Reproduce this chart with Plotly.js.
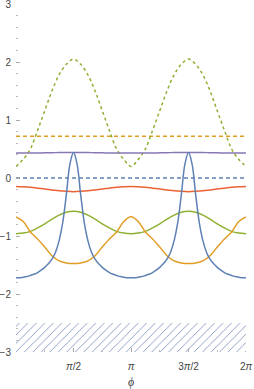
<!DOCTYPE html>
<html>
<head>
<meta charset="utf-8">
<script src="https://cdn.plot.ly/plotly-3.0.1.min.js"></script>
<style>html,body{margin:0;padding:0;background:#fff;}#chart{width:254px;height:389px;}</style>
</head>
<body>
<div id="chart"></div>
<script>
// ---- data ----
const PI = Math.PI;
// grid index for k*pi/16 (k = 0..32)
const steps16 = [0,1,2,3,4,5,6,7,8,9,10,11,12,13,14,15,16,17,18,19,20,21,22,23,24,25,26,27,28,29,30,31,32];
// grid index for j*pi/32 (j = 0..64)
const steps32 = [];
for (let j = 0; j <= 64; j++) steps32.push(j);

const greenDotted = [0.20,0.32,0.50,0.82,1.16,1.50,1.78,1.96,2.05,1.96,1.78,1.50,1.16,0.82,0.50,0.32,0.20,
                     0.32,0.50,0.82,1.16,1.50,1.78,1.96,2.05,1.96,1.78,1.50,1.16,0.82,0.50,0.32,0.20];
const purpleSolid = [0.43,0.43,0.43,0.43,0.435,0.435,0.44,0.44,0.44,0.44,0.44,0.435,0.435,0.43,0.43,0.43,0.43,
                     0.43,0.43,0.43,0.435,0.435,0.44,0.44,0.44,0.44,0.44,0.435,0.435,0.43,0.43,0.43,0.43];
const redSolid = [-0.145,-0.15,-0.16,-0.175,-0.19,-0.205,-0.22,-0.23,-0.235,-0.23,-0.22,-0.205,-0.19,-0.175,-0.16,-0.15,-0.145,
                  -0.15,-0.16,-0.175,-0.19,-0.205,-0.22,-0.23,-0.235,-0.23,-0.22,-0.205,-0.19,-0.175,-0.16,-0.15,-0.145];
const greenSolid = [-0.96,-0.95,-0.92,-0.86,-0.79,-0.71,-0.64,-0.59,-0.575,-0.59,-0.64,-0.71,-0.79,-0.86,-0.92,-0.95,-0.96,
                    -0.95,-0.92,-0.86,-0.79,-0.71,-0.64,-0.59,-0.575,-0.59,-0.64,-0.71,-0.79,-0.86,-0.92,-0.95,-0.96];
const orangeSolid = [-0.67,-0.75,-0.93,-1.05,-1.19,-1.34,-1.43,-1.465,-1.475,-1.465,-1.43,-1.34,-1.19,-1.05,-0.93,-0.75,-0.67,
                     -0.75,-0.93,-1.05,-1.19,-1.34,-1.43,-1.465,-1.475,-1.465,-1.43,-1.34,-1.19,-1.05,-0.93,-0.75,-0.67];
const blueSolid = [-1.72,-1.72,-1.71,-1.70,-1.68,-1.66,-1.63,-1.59,-1.54,-1.48,-1.40,-1.28,-1.08,-0.77,-0.29,0.24,0.44,
                   0.24,-0.29,-0.77,-1.08,-1.28,-1.40,-1.48,-1.54,-1.59,-1.63,-1.66,-1.68,-1.70,-1.71,-1.72,-1.72,
                   -1.72,-1.71,-1.70,-1.68,-1.66,-1.63,-1.59,-1.54,-1.48,-1.40,-1.28,-1.08,-0.77,-0.29,0.24,0.44,
                   0.24,-0.29,-0.77,-1.08,-1.28,-1.40,-1.48,-1.54,-1.59,-1.63,-1.66,-1.68,-1.70,-1.71,-1.72,-1.72];
const phiEnds = [0, 2*PI];
const blueDashedLevel = [0, 0];
const orangeDashedLevel = [0.72, 0.72];
const hatchLower = [-3, -3];
const hatchUpper = [-2.5, -2.5];

const xTickVals = [PI/2, PI, 3*PI/2, 2*PI];
const xTickText = ['<i>π</i>/2', '<i>π</i>', '3<i>π</i>/2', '2<i>π</i>'];
const xMinorVals = [PI/4, 3*PI/4, 5*PI/4, 7*PI/4];
const yTickVals = [-3,-2,-1,0,1,2,3];
const yTickText = ['−3','−2','−1','0','1','2','3'];

// ---- colours ----
const C = {blue:'#5E81B5', orange:'#E19C24', green:'#8FB032', red:'#EB6235', purple:'#8778B3', hatch:'#8595BF'};

const x16 = steps16.map(k => k*PI/16);
const x32 = steps32.map(j => j*PI/32);

function curve(x, y, color, dash) {
  return {x:x, y:y, type:'scatter', mode:'lines', hoverinfo:'skip',
          line:{color:color, width:1.5, dash:dash||'solid', shape:'spline', smoothing:1}};
}

const traces = [
  {x:phiEnds, y:hatchLower, type:'scatter', mode:'lines', line:{width:0}, hoverinfo:'skip'},
  {x:phiEnds, y:hatchUpper, type:'scatter', mode:'lines', line:{width:0}, hoverinfo:'skip',
   fill:'tonexty', fillcolor:'rgba(255,255,255,0)',
   fillpattern:{shape:'/', fgcolor:C.hatch, bgcolor:'rgba(255,255,255,0)', size:6, solidity:0.15}},
  curve(phiEnds, blueDashedLevel, C.blue, '4px,3px'),
  curve(phiEnds, orangeDashedLevel, C.orange, '4px,3px'),
  curve(x16, greenDotted, C.green, '3px,3px'),
  curve(x16, purpleSolid, C.purple),
  curve(x16, redSolid, C.red),
  curve(x16, greenSolid, C.green),
  curve(x16, orangeSolid, C.orange),
  curve(x32, blueSolid, C.blue)
];

const tickFont = {family:'Liberation Sans, Arial, sans-serif', size:10, color:'#444'};

const layout = {
  width:254, height:389,
  margin:{l:16, r:8, t:4, b:37},
  paper_bgcolor:'#fff', plot_bgcolor:'#fff',
  showlegend:false,
  xaxis:{
    range:[0, 2*PI], showgrid:false, zeroline:false, showline:false,
    tickmode:'array', tickvals:xTickVals, ticktext:xTickText,
    ticks:'inside', ticklen:4, tickwidth:1, tickcolor:'#aaa',
    tickfont:tickFont, ticklabelstandoff:7, ticklabeloverflow:'allow',
    minor:{tickmode:'array', tickvals:xMinorVals, ticks:'inside', ticklen:2, tickcolor:'#bbb', showgrid:false},
    title:{text:'<i>ϕ</i>', font:{family:'Liberation Serif, serif', size:12, color:'#444'}, standoff:6},
    fixedrange:true
  },
  yaxis:{
    range:[-3, 3], showgrid:false, zeroline:false, showline:false,
    tickmode:'array', tickvals:yTickVals, ticktext:yTickText,
    ticks:'inside', ticklen:4, tickwidth:1, tickcolor:'#aaa',
    tickfont:tickFont, ticklabelstandoff:4, ticklabeloverflow:'allow',
    minor:{dtick:0.2, tick0:0, ticks:'inside', ticklen:2, tickcolor:'#bbb', showgrid:false},
    fixedrange:true
  }
};

Plotly.newPlot('chart', traces, layout, {staticPlot:true, displayModeBar:false});
</script>
</body>
</html>
